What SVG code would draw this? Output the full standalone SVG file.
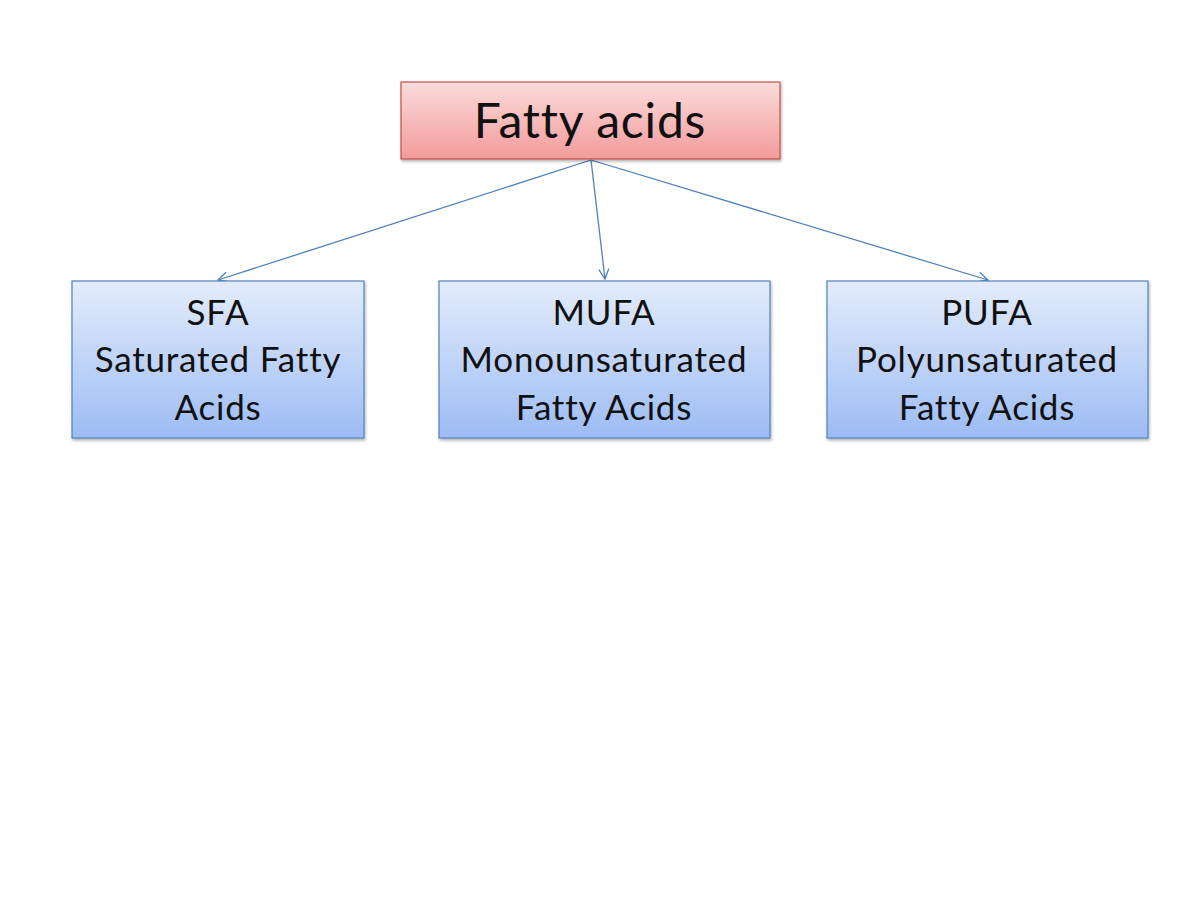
<svg xmlns="http://www.w3.org/2000/svg" width="1200" height="900" viewBox="0 0 1200 900">
<style>
.lbl{font-family:Lato,"Liberation Sans",sans-serif;fill:#111;text-anchor:middle}
.top{font-size:48px;letter-spacing:0.8px}
.sub{font-size:35px;letter-spacing:0.8px}
.box{stroke-width:1.2}
.conn{stroke:#4f81bd;stroke-width:1.3;fill:none}
</style>
<defs>
<linearGradient id="gRed" x1="0" y1="0" x2="0" y2="1">
<stop offset="0" stop-color="#fbdcdc"/>
<stop offset="1" stop-color="#f29a9a"/>
</linearGradient>
<linearGradient id="gBlue" x1="0" y1="0" x2="0" y2="1">
<stop offset="0" stop-color="#e3ecfb"/>
<stop offset="1" stop-color="#9dbcf4"/>
</linearGradient>
<filter id="sh" x="-5%" y="-5%" width="110%" height="120%">
<feDropShadow dx="1" dy="2" stdDeviation="1.5" flood-color="#000" flood-opacity="0.3"/>
</filter>
<marker id="arr" viewBox="0 0 12 12" refX="11" refY="6" markerWidth="12" markerHeight="12" markerUnits="userSpaceOnUse" orient="auto">
<path d="M1,1 L11,6 L1,11" fill="none" stroke="#4f81bd" stroke-width="1.3"/>
</marker>
</defs>
<rect width="1200" height="900" fill="#fff"/>
<g id="connectors">
<line class="conn" x1="591" y1="160" x2="218" y2="280" marker-end="url(#arr)"/>
<line class="conn" x1="591" y1="160" x2="605" y2="279" marker-end="url(#arr)"/>
<line class="conn" x1="591" y1="160" x2="988" y2="280" marker-end="url(#arr)"/>
</g>
<g id="fatty-acids">
<rect class="box" x="401" y="82" width="379" height="77" fill="url(#gRed)" stroke="#c0504d" filter="url(#sh)"/>
<text class="lbl top" x="590" y="138">Fatty acids</text>
</g>
<g id="sfa">
<rect class="box" x="72" y="281" width="292" height="157" fill="url(#gBlue)" stroke="#4f81bd" filter="url(#sh)"/>
<text class="lbl sub" x="218" y="325">SFA</text>
<text class="lbl sub" x="218" y="372">Saturated Fatty</text>
<text class="lbl sub" x="218" y="420">Acids</text>
</g>
<g id="mufa">
<rect class="box" x="439" y="281" width="331" height="157" fill="url(#gBlue)" stroke="#4f81bd" filter="url(#sh)"/>
<text class="lbl sub" x="604" y="325">MUFA</text>
<text class="lbl sub" x="604" y="372">Monounsaturated</text>
<text class="lbl sub" x="604" y="420">Fatty Acids</text>
</g>
<g id="pufa">
<rect class="box" x="827" y="281" width="321" height="157" fill="url(#gBlue)" stroke="#4f81bd" filter="url(#sh)"/>
<text class="lbl sub" x="987" y="325">PUFA</text>
<text class="lbl sub" x="987" y="372">Polyunsaturated</text>
<text class="lbl sub" x="987" y="420">Fatty Acids</text>
</g>
</svg>
